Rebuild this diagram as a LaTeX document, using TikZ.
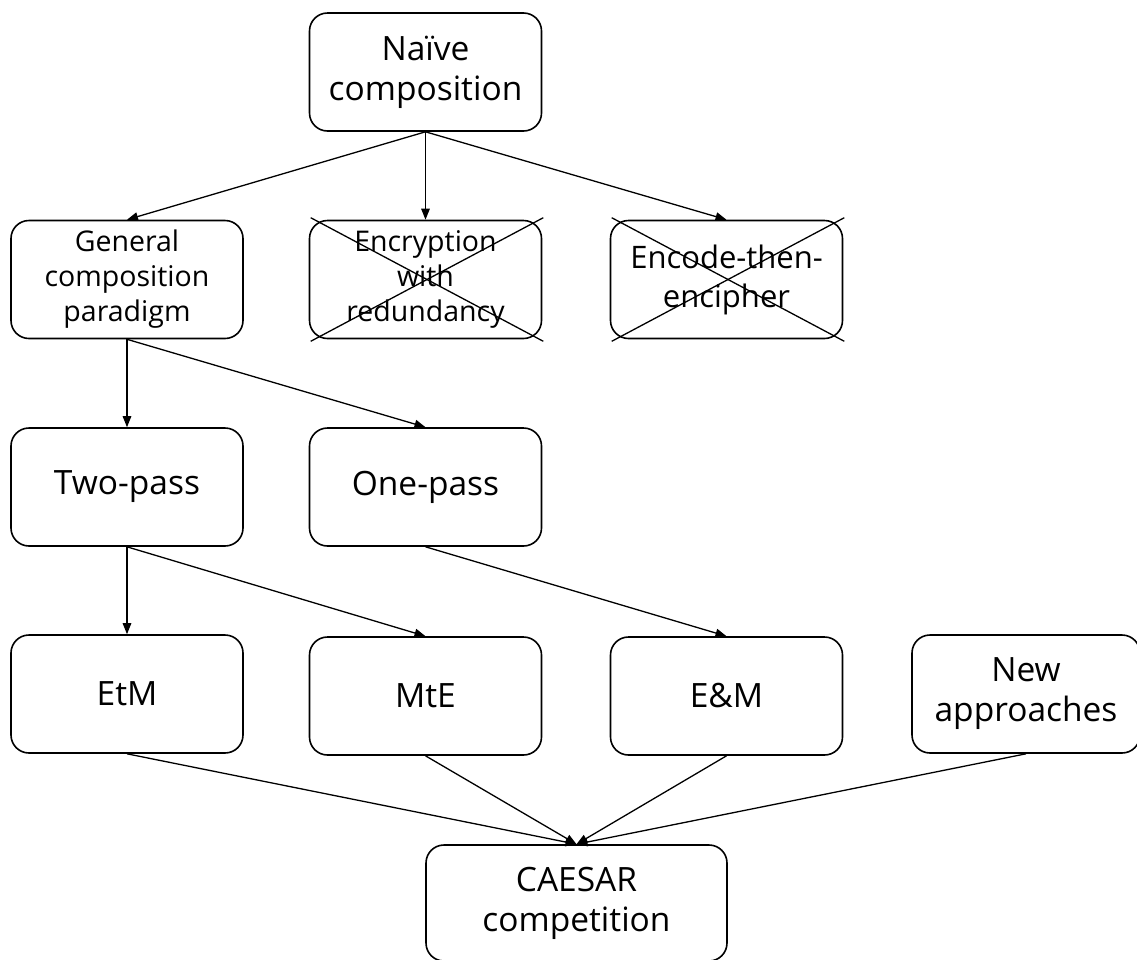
\documentclass[tikz,border=0pt]{standalone}
\usepackage{fontspec}
\setmainfont{Open Sans}
\usetikzlibrary{arrows.meta}
\begin{document}
\begin{tikzpicture}[x=1pt,y=-1pt,
  box/.style={draw, line width=1.6pt, rounded corners=18pt, minimum width=232pt, minimum height=118pt, align=center, inner sep=0pt, font=\fontsize{33.5}{40}\selectfont},
  small/.style={font=\fontsize{28.5}{35}\selectfont},
  mid/.style={font=\fontsize{31}{39}\selectfont},
  arr/.style={-{Triangle[length=11pt,width=8.5pt]}, line width=1.3pt},
  cross/.style={line width=1.3pt}]
\useasboundingbox (0,0) rectangle (1137,959);
\clip (0,0) rectangle (1137,959);
\node[box] (naive) at (425.5,72) {Naïve\\composition};
\node[box,small] (gen) at (127,279.5) {General\\composition\\paradigm};
\node[box,small] (enc) at (425.5,279.5) {Encryption\\with\\redundancy};
\node[box,mid] (ete) at (726.5,279.5) {Encode-then-\\encipher};
\node[box] (two) at (127,487) {Two-pass};
\node[box] (one) at (425.5,487) {One-pass};
\node[box] (etm) at (127,694) {EtM};
\node[box] (mte) at (425.5,696) {MtE};
\node[box] (em) at (726.5,696) {E\&M};
\node[box, minimum width=228pt] (new) at (1026,694) {New\\approaches};
\node[box, minimum width=301pt, minimum height=116pt] (caesar) at (576.5,903) {CAESAR\\competition};
% crosses
\draw[cross] ([shift={(2,-2)}]enc.north west) -- ([shift={(1,2)}]enc.south east);
\draw[cross] ([shift={(1,-2)}]enc.north east) -- ([shift={(2,2)}]enc.south west);
\draw[cross] ([shift={(2,-2)}]ete.north west) -- ([shift={(1,2)}]ete.south east);
\draw[cross] ([shift={(1,-2)}]ete.north east) -- ([shift={(2,2)}]ete.south west);
% arrows
\draw[arr] (naive.south) -- (gen.north);
\draw[arr] (naive.south) -- (enc.north);
\draw[arr] (naive.south) -- (ete.north);
\draw[arr] (gen.south) -- (two.north);
\draw[arr] (gen.south) -- (one.north);
\draw[arr] (two.south) -- (etm.north);
\draw[arr] (two.south) -- (mte.north);
\draw[arr] (one.south) -- (em.north);
\draw[arr] (etm.south) -- (caesar.north);
\draw[arr] (mte.south) -- (caesar.north);
\draw[arr] (em.south) -- (caesar.north);
\draw[arr] (new.south) -- (caesar.north);
\end{tikzpicture}
\end{document}
